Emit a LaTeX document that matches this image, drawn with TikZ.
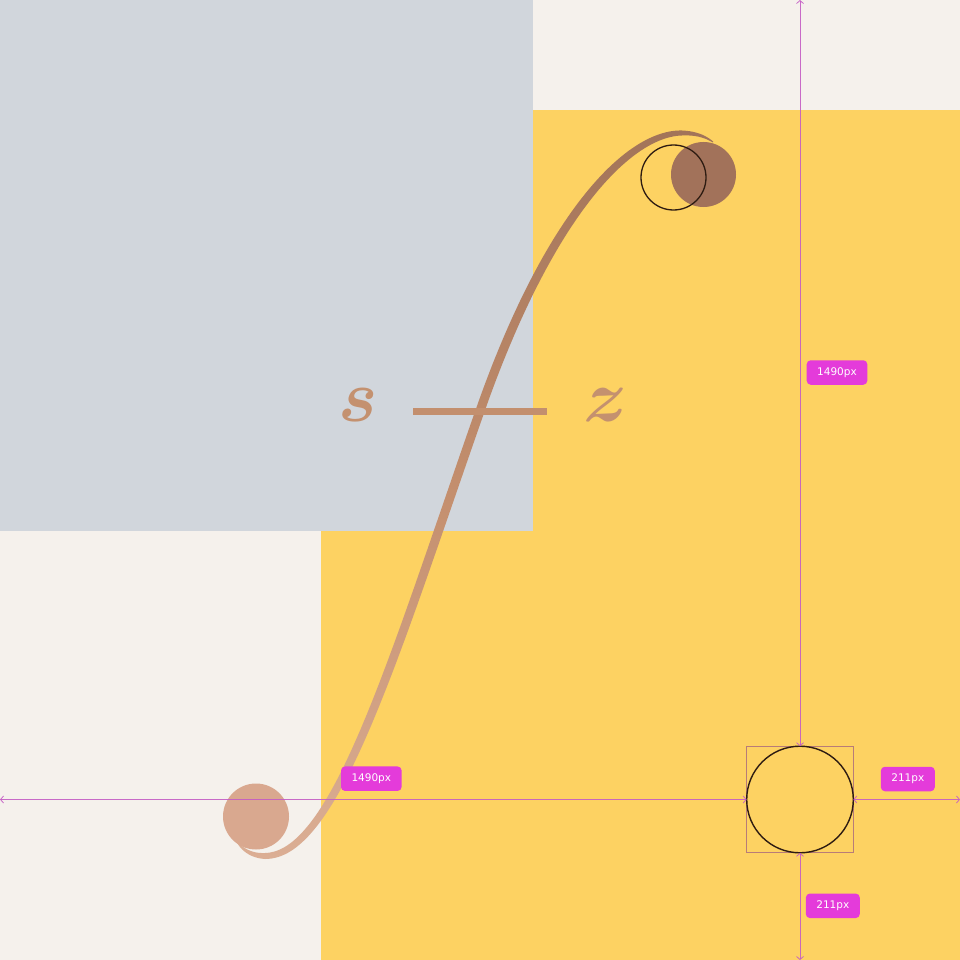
\documentclass[tikz,border=0pt]{standalone}
\usepackage{fontspec}
\usepackage{bm}
\usetikzlibrary{arrows.meta}
\newfontfamily\labelfont{DejaVu Sans}
\definecolor{cream}{HTML}{F5F1EC}
\definecolor{grayb}{HTML}{D1D6DC}
\definecolor{yel}{HTML}{FDD262}
\definecolor{curvetop}{HTML}{A27459}
\definecolor{curvemid}{HTML}{C48F6E}
\definecolor{curvebot}{HTML}{DBAE94}
\definecolor{barcol}{HTML}{C38F6E}
\definecolor{lettercol}{HTML}{C4916F}
\definecolor{blob}{HTML}{A2725A}
\definecolor{blobtwo}{HTML}{D9A88F}
\definecolor{ink}{HTML}{2E1C12}
\definecolor{dimcol}{HTML}{C45CC4}
\definecolor{boxcol}{HTML}{B87C78}
\definecolor{labmag}{HTML}{E43BDA}
\begin{document}
\begin{tikzpicture}[x=1pt,y=-1pt,
  declare function={
    cb(\t,\a,\b,\c,\d)=(1-\t)^3*\a+3*(1-\t)^2*\t*\b+3*(1-\t)*\t^2*\c+\t^3*\d;
    dc(\t,\a,\b,\c,\d)=0.03*((1-\t)^2*(\b-\a)+2*(1-\t)*\t*(\c-\b)+\t^2*(\d-\c));
    % segment A: bottom tip
    xA(\t)=cb(\t,238,243,252,265); yA(\t)=cb(\t,843,850,856,856);
    dxA(\t)=dc(\t,238,243,252,265); dyA(\t)=dc(\t,843,850,856,856);
    wA(\t)=0.7+2.3*\t;
    nxA(\t)=-wA(\t)*dyA(\t)/veclen(dxA(\t),dyA(\t));
    nyA(\t)=wA(\t)*dxA(\t)/veclen(dxA(\t),dyA(\t));
    % segment B: lower body
    xB(\t)=cb(\t,265,335,392.5,480); yB(\t)=cb(\t,856,856,661,411);
    dxB(\t)=dc(\t,265,335,392.5,480); dyB(\t)=dc(\t,856,856,661,411);
    wB(\t)=3+1.5*\t*(2-\t);
    nxB(\t)=-wB(\t)*dyB(\t)/veclen(dxB(\t),dyB(\t));
    nyB(\t)=wB(\t)*dxB(\t)/veclen(dxB(\t),dyB(\t));
    % segment C: upper body
    xC(\t)=cb(\t,480,550,630,682); yC(\t)=cb(\t,411,211,133,133);
    dxC(\t)=dc(\t,480,550,630,682); dyC(\t)=dc(\t,411,211,133,133);
    wC(\t)=4.5-2*\t^2;
    nxC(\t)=-wC(\t)*dyC(\t)/veclen(dxC(\t),dyC(\t));
    nyC(\t)=wC(\t)*dxC(\t)/veclen(dxC(\t),dyC(\t));
    % segment D: top tip
    xD(\t)=cb(\t,682,697,706,713); yD(\t)=cb(\t,133,133,137,142);
    dxD(\t)=dc(\t,682,697,706,713); dyD(\t)=dc(\t,133,133,137,142);
    wD(\t)=2.5-2*\t;
    nxD(\t)=-wD(\t)*dyD(\t)/veclen(dxD(\t),dyD(\t));
    nyD(\t)=wD(\t)*dxD(\t)/veclen(dxD(\t),dyD(\t));
  },
  dimline/.style={draw=dimcol, line width=0.8pt, opacity=0.9,
    arrows={Straight Barb[length=3pt,width=7pt]-Straight Barb[length=3pt,width=7pt]}},
  dimlab/.style={fill=labmag, rounded corners=4pt, text=white, inner xsep=10.5pt,
    inner ysep=0pt, minimum height=24.5pt,
    font=\labelfont\fontsize{10.5}{12}\selectfont},
  letter/.style={text=lettercol, inner sep=0pt}]
\useasboundingbox (0,0) rectangle (960,960);
% backgrounds
\fill[cream] (0,0) rectangle (960,960);
\fill[yel] (321,110) rectangle (960,960);
\fill[grayb] (0,0) rectangle (533,531);
% integral stroke (tapered ribbon with gradient)
\shade[top color=curvetop, bottom color=curvebot, middle color=curvemid, variable=\t]
  plot[domain=0:1, samples=12] ({xA(\t)+nxA(\t)},{yA(\t)+nyA(\t)})
  -- plot[domain=0:1, samples=70] ({xB(\t)+nxB(\t)},{yB(\t)+nyB(\t)})
  -- plot[domain=0:1, samples=70] ({xC(\t)+nxC(\t)},{yC(\t)+nyC(\t)})
  -- plot[domain=0:1, samples=12] ({xD(\t)+nxD(\t)},{yD(\t)+nyD(\t)})
  -- plot[domain=0:1, samples=12] ({xD(1-\t)-nxD(1-\t)},{yD(1-\t)-nyD(1-\t)})
  -- plot[domain=0:1, samples=70] ({xC(1-\t)-nxC(1-\t)},{yC(1-\t)-nyC(1-\t)})
  -- plot[domain=0:1, samples=70] ({xB(1-\t)-nxB(1-\t)},{yB(1-\t)-nyB(1-\t)})
  -- plot[domain=0:1, samples=12] ({xA(1-\t)-nxA(1-\t)},{yA(1-\t)-nyA(1-\t)})
  -- cycle;
% crossbar
\draw[barcol, line width=7.5pt] (413,411.5) -- (547,411.5);
% letters
\node[letter] (s) at (358,405.5) {\scalebox{7.4}{$\bm{s}$}};
\node[letter] (z) at (606,405.5) {\scalebox{7.4}{$\bm{z}$}};
% circles
\node[circle, fill=blob, minimum size=65pt, inner sep=0pt] (blobtop) at (703.5,174.5) {};
\node[circle, draw=ink, line width=1.3pt, minimum size=65pt, inner sep=0pt] (ringtop) at (673.5,177.5) {};
\node[circle, fill=blobtwo, minimum size=66pt, inner sep=0pt] (dot) at (256,816.5) {};
% measured circle and its box
\node[rectangle, draw=boxcol, line width=0.8pt, minimum size=106.6pt, inner sep=0pt, outer sep=0pt] (box) at (800,799.5) {};
\node[circle, draw=ink, line width=1.4pt, minimum size=106.6pt, inner sep=0pt, outer sep=0pt] (ring) at (800,799.5) {};
% dimension lines
\coordinate (vtop) at (800,0);
\coordinate (vbot) at (800,960);
\coordinate (hleft) at (0,799.5);
\coordinate (hright) at (960,799.5);
\draw[dimline] (vtop) -- (ring.north);
\draw[dimline] (ring.south) -- (vbot);
\draw[dimline] (hleft) -- (ring.west);
\draw[dimline] (ring.east) -- (hright);
% labels
\node[dimlab] (lv) at (837,372.5) {1490px};
\node[dimlab] (lh) at (371.3,778.7) {1490px};
\node[dimlab] (lr) at (907.8,779) {211px};
\node[dimlab] (lb) at (832.8,905.8) {211px};
\end{tikzpicture}
\end{document}
